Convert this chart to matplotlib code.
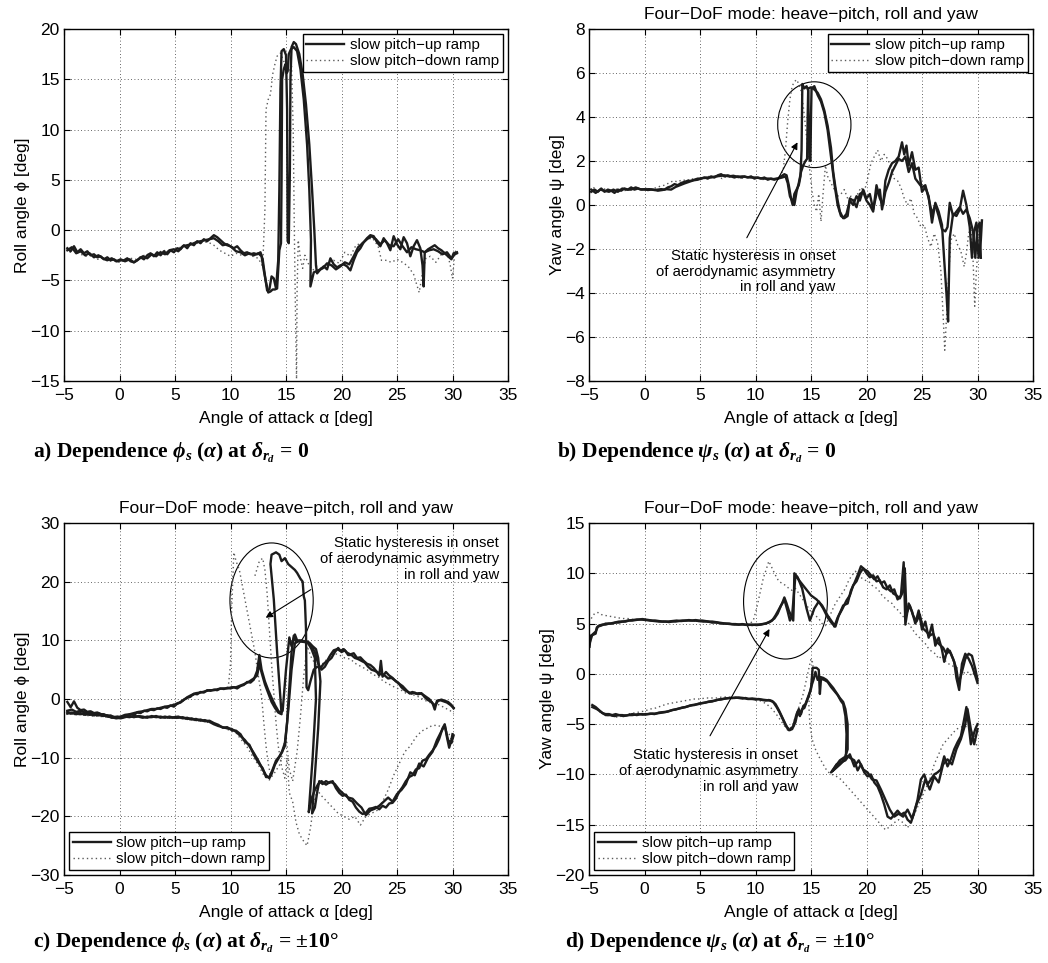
import matplotlib
matplotlib.use("Agg")
import matplotlib.pyplot as plt
from matplotlib.patches import Ellipse

plt.rcParams['font.family'] = ['Liberation Sans', 'DejaVu Sans']
plt.rcParams['axes.unicode_minus'] = True
plt.rcParams['mathtext.fontset'] = 'custom'
plt.rcParams['mathtext.rm'] = 'Liberation Serif:bold'
plt.rcParams['mathtext.it'] = 'Liberation Serif:italic:bold'
plt.rcParams['mathtext.bf'] = 'Liberation Serif:bold'

# ---------------- data: (alpha [deg], angle [deg]) ----------------
# a) roll angle, rudder neutral
a_up1 = [(-4.7,-1.8),(-4.4,-2.1),(-4.1,-1.6),(-3.8,-2.2),(-3.5,-1.9),(-3.2,-2.3),(-2.9,-2.1),(-2.6,-2.5),(-2.3,-2.4),(-2.0,-2.7),(-1.7,-2.6),(-1.4,-2.9),(-1.1,-2.7),(-0.8,-3.0),(-0.5,-2.9),(-0.2,-3.1),(0.1,-3.0),(0.4,-3.0),(0.7,-2.8),(1.0,-3.1),(1.3,-3.2),(1.6,-3.0),(1.9,-2.7),(2.2,-2.9),(2.5,-2.5),(2.8,-2.3),(3.1,-2.6),(3.4,-2.2),(3.7,-2.5),(4.0,-2.1),(4.3,-2.4),(4.6,-2.0),(4.9,-2.2),(5.2,-1.8),(5.5,-1.9),(5.8,-1.5),(6.1,-1.8),(6.4,-1.3),(6.7,-1.5),(7.0,-1.1),(7.3,-1.3),(7.6,-0.9),(7.9,-1.1),(8.2,-0.8),(8.5,-0.5),(8.8,-0.7),(9.1,-1.0),(9.4,-1.3),(9.7,-1.5),(10.0,-1.6),(10.3,-1.8),(10.6,-1.6),(10.9,-2.0),(11.2,-2.3),(11.5,-2.2),(11.8,-2.4),(12.1,-2.3),(12.4,-2.4),(12.7,-2.2),(12.9,-2.9),(13.1,-4.5),(13.3,-6.0),(13.5,-5.9),(13.7,-4.6),(13.9,-4.8),(14.1,-5.8),(14.3,-3.0),(14.4,4.0),(14.5,14.0),(14.6,17.8),(14.8,18.0),(15.0,17.4),(15.1,12.0),(15.15,-1.0),(15.25,-1.3),(15.35,6.0),(15.4,15.0),(15.5,18.2),(15.7,18.7),(15.9,18.5),(16.2,17.5),(16.5,15.5),(16.8,12.5),(17.1,8.5),(17.35,4.0),(17.55,0.0),(17.7,-3.5),(17.8,-4.3),(18.1,-3.9),(18.4,-3.6),(18.7,-3.9),(19.0,-2.8),(19.3,-3.4),(19.6,-3.7),(19.9,-3.5),(20.2,-3.4),(20.5,-3.6),(20.8,-4.0),(21.1,-3.0),(21.4,-2.2),(21.7,-1.8),(22.0,-1.2),(22.3,-0.8),(22.6,-0.5),(22.9,-0.6),(23.2,-1.2),(23.5,-1.6),(23.8,-0.8),(24.1,-1.3),(24.4,-2.0),(24.7,-0.6),(25.0,-1.4),(25.3,-1.9),(25.6,-0.7),(25.9,-1.3),(26.2,-2.6),(26.5,-1.6),(26.8,-1.0),(27.1,-1.8),(27.3,-3.5),(27.4,-5.6),(27.5,-2.2),(27.8,-1.9),(28.1,-1.7),(28.4,-1.5),(28.7,-1.8),(29.0,-2.0),(29.3,-2.3),(29.6,-2.6),(29.9,-2.9),(30.1,-2.3),(30.4,-2.2)]
a_up2 = [(-4.7,-2.0),(-4.3,-1.7),(-3.9,-2.3),(-3.5,-2.1),(-3.1,-2.5),(-2.7,-2.3),(-2.3,-2.7),(-1.9,-2.5),(-1.5,-2.8),(-1.1,-3.0),(-0.7,-2.8),(-0.3,-3.1),(0.1,-2.9),(0.5,-3.1),(0.9,-2.9),(1.3,-3.2),(1.7,-2.9),(2.1,-2.6),(2.5,-2.8),(2.9,-2.4),(3.3,-2.6),(3.7,-2.2),(4.1,-2.4),(4.5,-2.0),(4.9,-1.9),(5.3,-2.1),(5.7,-1.6),(6.1,-1.5),(6.5,-1.4),(6.9,-1.2),(7.3,-1.1),(7.7,-1.0),(8.1,-0.9),(8.5,-0.8),(8.9,-1.1),(9.3,-1.5),(9.7,-1.4),(10.1,-1.7),(10.5,-2.1),(10.9,-2.2),(11.3,-2.5),(11.7,-2.3),(12.1,-2.5),(12.5,-2.3),(12.8,-2.6),(13.0,-4.0),(13.2,-5.2),(13.4,-6.2),(13.6,-6.1),(13.8,-5.9),(14.0,-5.9),(14.2,-5.8),(14.4,-2.0),(14.55,-1.3),(14.6,5.0),(14.65,15.0),(14.8,16.0),(14.95,16.5),(15.05,15.6),(15.15,15.8),(15.25,17.5),(15.45,18.0),(15.7,18.2),(16.0,17.8),(16.3,16.0),(16.6,13.0),(16.9,8.5),(17.1,4.0),(17.25,-1.0),(17.2,-5.6),(17.5,-4.2),(17.9,-4.0),(18.3,-3.8),(18.7,-3.3),(19.1,-3.5),(19.5,-3.9),(19.9,-3.6),(20.3,-3.2),(20.7,-3.4),(21.1,-2.6),(21.5,-1.7),(21.9,-1.3),(22.3,-0.9),(22.7,-0.6),(23.1,-0.9),(23.5,-1.4),(23.9,-1.0),(24.3,-1.5),(24.7,-1.6),(25.1,-0.9),(25.5,-1.6),(25.9,-2.2),(26.3,-1.7),(26.7,-1.9),(27.1,-2.0),(27.5,-2.2),(27.9,-2.0),(28.3,-1.9),(28.7,-2.1),(29.1,-2.4),(29.5,-2.2),(29.9,-2.8),(30.2,-2.4),(30.4,-2.3)]
a_dn = [(-4.5,-2.2),(-4.0,-2.0),(-3.5,-2.4),(-3.0,-2.6),(-2.5,-2.5),(-2.0,-2.9),(-1.5,-2.8),(-1.0,-3.1),(-0.5,-3.0),(0.0,-3.2),(0.5,-3.0),(1.0,-2.8),(1.5,-2.9),(2.0,-2.6),(2.5,-2.4),(3.0,-2.5),(3.5,-2.2),(4.0,-2.0),(4.5,-2.3),(5.0,-1.9),(5.5,-1.7),(6.0,-1.6),(6.5,-1.5),(7.0,-1.3),(7.5,-1.2),(8.0,-1.2),(8.5,-1.5),(9.0,-2.0),(9.5,-2.3),(10.0,-2.6),(10.5,-2.3),(11.0,-2.5),(11.5,-2.3),(12.0,-2.6),(12.5,-2.8),(12.9,-3.6),(13.1,2.0),(13.2,12.0),(13.4,13.0),(13.6,13.5),(13.8,15.5),(14.0,16.5),(14.2,17.3),(14.5,17.6),(14.8,16.8),(15.0,16.0),(15.3,15.8),(15.5,16.3),(15.65,10.0),(15.75,0.0),(15.85,-8.0),(15.95,-14.8),(16.0,-6.0),(16.1,-1.0),(16.3,-2.8),(16.5,-3.8),(16.7,-2.5),(17.0,-3.3),(17.4,-4.0),(17.8,-3.6),(18.3,-3.9),(18.8,-3.2),(19.3,-3.0),(19.8,-3.3),(20.3,-2.2),(20.8,-2.6),(21.3,-1.5),(21.8,-1.3),(22.3,-0.9),(22.8,-0.8),(23.3,-1.6),(23.6,-3.0),(24.0,-3.0),(24.5,-3.2),(25.0,-2.9),(25.5,-3.2),(26.0,-3.6),(26.5,-4.4),(26.8,-5.5),(27.0,-6.2),(27.3,-4.2),(27.6,-2.8),(28.0,-2.6),(28.5,-3.2),(29.0,-2.4),(29.5,-2.1),(29.8,-3.5),(30.0,-4.8),(30.2,-2.3),(30.4,-1.8)]

# b) yaw angle, rudder neutral
b_up1 = [(-4.8,0.6),(-4.5,0.7),(-4.2,0.6),(-3.9,0.75),(-3.6,0.6),(-3.3,0.7),(-3.0,0.65),(-2.7,0.55),(-2.4,0.7),(-2.1,0.65),(-1.8,0.75),(-1.5,0.7),(-1.2,0.8),(-0.9,0.7),(-0.6,0.75),(-0.3,0.7),(0.0,0.72),(0.3,0.68),(0.6,0.7),(0.9,0.68),(1.2,0.7),(1.5,0.72),(1.8,0.7),(2.1,0.8),(2.4,0.85),(2.7,0.95),(3.0,0.9),(3.3,1.0),(3.6,1.05),(3.9,1.1),(4.2,1.1),(4.5,1.15),(4.8,1.2),(5.1,1.2),(5.4,1.25),(5.7,1.2),(6.0,1.3),(6.3,1.25),(6.6,1.35),(6.9,1.4),(7.2,1.3),(7.5,1.35),(7.8,1.3),(8.1,1.25),(8.4,1.3),(8.7,1.25),(9.0,1.3),(9.3,1.25),(9.6,1.3),(9.9,1.2),(10.2,1.25),(10.5,1.2),(10.8,1.25),(11.1,1.15),(11.4,1.2),(11.7,1.15),(12.0,1.2),(12.3,1.3),(12.6,1.4),(12.8,1.35),(13.0,0.9),(13.2,0.3),(13.35,0.0),(13.5,0.5),(13.7,0.7),(13.9,0.9),(14.05,1.3),(14.15,2.5),(14.22,5.5),(14.4,5.3),(14.6,5.4),(14.75,5.2),(14.8,3.5),(14.85,2.1),(14.95,2.0),(15.0,4.0),(15.05,5.3),(15.3,5.4),(15.6,5.0),(15.9,4.7),(16.2,4.2),(16.5,3.4),(16.8,2.2),(17.1,1.0),(17.4,0.0),(17.7,-0.5),(18.0,-0.6),(18.3,-0.5),(18.5,0.3),(18.8,0.2),(19.1,-0.1),(19.4,0.5),(19.7,0.6),(20.0,0.2),(20.3,0.0),(20.6,-0.3),(20.9,0.9),(21.2,0.3),(21.5,0.0),(21.7,1.1),(22.0,1.6),(22.3,1.9),(22.6,2.0),(22.9,2.2),(23.2,2.85),(23.4,2.3),(23.6,2.7),(23.8,1.8),(24.1,2.4),(24.4,1.6),(24.7,1.7),(25.0,0.6),(25.3,0.8),(25.6,0.4),(25.9,-0.8),(26.2,0.1),(26.5,-0.3),(26.8,-0.9),(27.0,-2.5),(27.2,-4.0),(27.35,-5.3),(27.5,-1.5),(27.8,-0.4),(28.1,-0.5),(28.4,-0.2),(28.7,0.65),(29.0,0.0),(29.3,-1.0),(29.5,-2.4),(29.7,-1.2),(29.9,-0.8),(30.1,-2.4),(30.3,-1.6),(30.4,-0.7)]
b_up2 = [(-4.8,0.7),(-4.4,0.55),(-4.0,0.7),(-3.6,0.65),(-3.2,0.6),(-2.8,0.7),(-2.4,0.6),(-2.0,0.75),(-1.6,0.7),(-1.2,0.7),(-0.8,0.8),(-0.4,0.72),(0.0,0.7),(0.4,0.72),(0.8,0.7),(1.2,0.65),(1.6,0.68),(2.0,0.72),(2.4,0.7),(2.8,0.82),(3.2,0.9),(3.6,0.98),(4.0,1.05),(4.4,1.12),(4.8,1.15),(5.2,1.22),(5.6,1.25),(6.0,1.25),(6.4,1.3),(6.8,1.32),(7.2,1.35),(7.6,1.3),(8.0,1.33),(8.4,1.28),(8.8,1.3),(9.2,1.27),(9.6,1.25),(10.0,1.25),(10.4,1.22),(10.8,1.2),(11.2,1.2),(11.6,1.18),(12.0,1.2),(12.4,1.25),(12.7,1.3),(12.9,1.0),(13.1,0.4),(13.3,0.2),(13.5,0.0),(13.7,0.6),(13.9,1.0),(14.1,1.5),(14.3,1.8),(14.5,2.0),(14.65,2.1),(14.7,4.0),(14.75,5.3),(15.0,5.35),(15.3,5.25),(15.6,5.1),(15.9,4.8),(16.2,4.3),(16.5,3.6),(16.8,2.6),(17.0,1.5),(17.2,0.8),(17.4,0.2),(17.6,-0.3),(17.9,-0.6),(18.2,-0.4),(18.5,0.2),(18.8,0.0),(19.1,0.4),(19.4,0.2),(19.7,0.7),(20.0,0.3),(20.3,0.5),(20.6,-0.2),(20.9,0.5),(21.2,0.7),(21.4,-0.2),(21.7,0.6),(22.0,1.0),(22.3,1.5),(22.6,1.8),(22.9,2.1),(23.2,2.0),(23.5,2.2),(23.8,1.5),(24.1,1.9),(24.4,1.2),(24.7,1.0),(25.0,0.8),(25.3,0.9),(25.6,0.3),(25.9,-0.4),(26.2,0.0),(26.5,-0.5),(26.8,-1.1),(27.1,-1.2),(27.3,-1.0),(27.5,0.1),(27.8,-0.5),(28.1,-0.3),(28.4,-0.1),(28.7,-0.4),(29.0,-0.2),(29.3,-0.6),(29.6,-1.2),(29.8,-2.4),(30.0,-1.0),(30.2,-0.8),(30.3,-2.4)]
b_dn = [(-4.6,0.8),(-4.2,0.6),(-3.8,0.75),(-3.4,0.7),(-3.0,0.6),(-2.6,0.72),(-2.2,0.7),(-1.8,0.65),(-1.4,0.72),(-1.0,0.7),(-0.6,0.75),(-0.2,0.7),(0.2,0.75),(0.6,0.7),(1.0,0.78),(1.4,0.85),(1.8,0.9),(2.2,1.0),(2.6,1.1),(3.0,1.05),(3.4,1.15),(3.8,1.1),(4.2,1.2),(4.6,1.15),(5.0,1.25),(5.4,1.2),(5.8,1.3),(6.2,1.25),(6.6,1.3),(7.0,1.2),(7.4,1.3),(7.8,1.25),(8.2,1.3),(8.6,1.2),(9.0,1.25),(9.4,1.3),(9.8,1.2),(10.2,1.25),(10.6,1.15),(11.0,1.2),(11.4,1.15),(11.8,1.2),(12.2,1.3),(12.5,1.6),(12.7,2.5),(12.9,3.8),(13.1,4.8),(13.3,5.4),(13.5,5.6),(13.7,5.7),(13.9,5.5),(14.1,5.2),(14.3,4.5),(14.5,3.6),(14.7,2.6),(14.9,1.5),(15.1,0.6),(15.3,0.0),(15.5,-0.3),(15.7,0.5),(15.9,-0.75),(16.1,0.6),(16.3,1.8),(16.5,1.3),(16.8,1.0),(17.1,0.7),(17.4,0.4),(17.7,0.5),(18.0,0.7),(18.3,0.3),(18.6,0.4),(18.9,0.2),(19.2,0.5),(19.5,0.8),(19.8,0.6),(20.1,1.2),(20.4,1.9),(20.7,2.2),(21.0,2.5),(21.3,2.0),(21.6,2.3),(21.9,2.1),(22.2,1.7),(22.5,1.2),(22.8,1.1),(23.1,0.8),(23.4,0.3),(23.7,0.0),(24.0,0.3),(24.3,-0.4),(24.6,-0.6),(24.9,-1.0),(25.2,-0.9),(25.5,-1.5),(25.8,-1.9),(26.1,-1.3),(26.4,-1.7),(26.7,-3.0),(26.9,-5.0),(27.05,-6.6),(27.2,-5.2),(27.4,-3.2),(27.6,-1.6),(27.9,-1.3),(28.2,-1.8),(28.5,-2.1),(28.8,-2.8),(29.0,-2.2),(29.2,-1.3),(29.4,-1.0),(29.6,-2.5),(29.75,-4.6),(29.9,-3.0),(30.1,-1.6),(30.3,-0.8)]

# c) roll angle, rudder at +/-10 deg
c_up1 = [(-4.7,-0.5),(-4.4,-1.4),(-4.1,-0.4),(-3.8,-1.5),(-3.5,-1.9),(-3.2,-1.8),(-2.9,-2.2),(-2.6,-2.1),(-2.3,-2.4),(-2.0,-2.3),(-1.7,-2.6),(-1.4,-2.6),(-1.1,-2.9),(-0.8,-2.8),(-0.5,-3.1),(-0.2,-3.0),(0.1,-3.2),(0.4,-2.9),(0.7,-2.8),(1.0,-2.6),(1.3,-2.7),(1.6,-2.3),(1.9,-2.4),(2.2,-2.0),(2.5,-2.1),(2.8,-1.8),(3.1,-1.9),(3.4,-1.6),(3.7,-1.7),(4.0,-1.4),(4.3,-1.5),(4.6,-1.1),(4.9,-1.3),(5.2,-0.8),(5.5,-0.6),(5.8,-0.1),(6.1,0.2),(6.4,0.4),(6.7,0.9),(7.0,0.8),(7.3,1.2),(7.6,1.1),(7.9,1.5),(8.2,1.4),(8.5,1.6),(8.8,1.5),(9.1,1.8),(9.4,1.7),(9.7,1.9),(10.0,1.8),(10.3,2.0),(10.6,1.8),(10.9,2.2),(11.2,2.4),(11.5,2.9),(11.8,2.8),(12.1,3.3),(12.4,4.8),(12.6,7.5),(12.8,5.0),(13.1,3.0),(13.4,1.5),(13.7,0.2),(14.0,-1.0),(14.3,-2.0),(14.6,-2.6),(14.2,8.0),(13.9,17.0),(13.6,23.0),(13.7,24.6),(14.1,25.0),(14.4,24.6),(14.6,23.5),(14.9,24.0),(15.2,23.0),(15.5,22.5),(15.8,22.0),(16.0,21.5),(16.3,20.5),(16.5,20.0),(16.6,17.5),(16.7,16.8),(16.8,12.0),(16.85,2.0),(17.0,1.5),(17.2,3.0),(17.5,5.0),(17.8,5.5),(18.1,5.3),(18.4,6.0),(18.7,6.5),(19.0,7.5),(19.3,8.3),(19.6,8.5),(19.9,8.2),(20.2,8.5),(20.5,7.9),(20.8,7.6),(21.1,7.8),(21.4,7.0),(21.7,7.1),(22.0,6.5),(22.3,6.0),(22.6,5.8),(22.9,5.3),(23.2,4.6),(23.4,4.0),(23.55,6.5),(23.7,3.8),(24.0,4.6),(24.3,4.0),(24.6,3.6),(24.9,3.0),(25.2,2.6),(25.5,2.2),(25.8,1.6),(26.1,1.0),(26.4,1.2),(26.7,0.9),(27.0,1.0),(27.3,0.8),(27.6,0.4),(27.9,0.0),(28.2,-0.7),(28.4,-1.8),(28.6,-0.3),(28.9,-0.2),(29.2,-0.4),(29.5,-0.6),(29.8,-1.0),(30.1,-1.5)]
c_up2 = [(-4.7,-2.0),(-4.3,-1.8),(-3.9,-2.2),(-3.5,-2.0),(-3.1,-2.3),(-2.7,-2.2),(-2.3,-2.5),(-1.9,-2.4),(-1.5,-2.7),(-1.1,-2.8),(-0.7,-3.0),(-0.3,-3.1),(0.1,-3.0),(0.5,-2.7),(0.9,-2.6),(1.3,-2.4),(1.7,-2.2),(2.1,-2.1),(2.5,-1.9),(2.9,-1.7),(3.3,-1.7),(3.7,-1.5),(4.1,-1.3),(4.5,-1.2),(4.9,-1.0),(5.3,-0.7),(5.7,-0.3),(6.1,0.3),(6.5,0.7),(6.9,1.0),(7.3,1.1),(7.7,1.3),(8.1,1.5),(8.5,1.5),(8.9,1.7),(9.3,1.8),(9.7,1.8),(10.1,2.0),(10.5,2.0),(10.9,2.3),(11.3,2.6),(11.7,3.0),(12.1,3.5),(12.4,4.0),(12.6,6.0),(12.8,4.5),(13.1,2.5),(13.4,1.0),(13.7,-0.5),(14.0,-1.5),(14.3,-2.3),(14.5,-2.5),(14.7,-2.0),(15.0,5.0),(15.3,10.5),(15.5,9.0),(15.8,11.0),(16.0,10.0),(16.3,9.8),(16.7,9.7),(17.0,9.5),(17.3,9.0),(17.6,8.0),(17.9,6.0),(18.2,5.0),(18.5,5.5),(18.8,6.5),(19.1,7.0),(19.4,8.0),(19.7,8.7),(20.0,8.0),(20.3,8.3),(20.6,7.5),(20.9,7.5),(21.2,7.0),(21.5,6.8),(21.8,6.5),(22.1,6.2),(22.4,5.5),(22.7,5.0),(23.0,4.8),(23.3,4.5),(23.6,4.2),(23.9,4.0),(24.2,3.5),(24.5,3.6),(24.8,3.2),(25.1,2.8),(25.4,2.0),(25.7,1.5),(26.0,1.2),(26.3,0.9),(26.6,1.1),(26.9,0.8),(27.2,1.0),(27.5,0.3),(27.8,-0.2),(28.1,-0.5),(28.4,-1.2),(28.7,-0.3),(29.0,-0.1),(29.3,-0.3),(29.6,-0.5),(29.9,-1.0),(30.1,-1.6)]
c_lo1 = [(-4.7,-2.2),(-4.3,-2.5),(-3.9,-2.3),(-3.5,-2.6),(-3.1,-2.4),(-2.7,-2.7),(-2.3,-2.6),(-1.9,-2.8),(-1.5,-2.7),(-1.1,-3.0),(-0.7,-3.1),(-0.3,-3.3),(0.1,-3.2),(0.5,-3.0),(0.9,-3.1),(1.3,-2.9),(1.7,-3.0),(2.1,-3.2),(2.5,-3.0),(2.9,-3.1),(3.3,-2.9),(3.7,-3.2),(4.1,-3.0),(4.5,-3.2),(4.9,-3.1),(5.3,-3.0),(5.7,-3.3),(6.1,-3.2),(6.5,-3.5),(6.9,-3.4),(7.3,-3.7),(7.7,-3.6),(8.1,-3.9),(8.5,-4.3),(8.9,-4.6),(9.3,-4.8),(9.7,-5.0),(10.1,-5.1),(10.5,-5.6),(10.9,-6.3),(11.3,-7.0),(11.7,-8.0),(12.1,-9.2),(12.5,-10.5),(12.9,-12.0),(13.2,-13.0),(13.5,-13.5),(13.7,-12.8),(14.0,-11.2),(14.3,-10.2),(14.6,-9.2),(14.9,-7.5),(15.1,-4.0),(15.3,2.0),(15.5,8.0),(15.7,10.8),(15.9,9.8),(16.2,10.0),(16.5,9.8),(16.8,9.9),(17.1,9.6),(17.4,9.0),(17.7,8.5),(17.9,7.0),(18.1,3.0),(17.9,-5.0),(17.6,-13.0),(17.35,-19.5),(17.6,-18.5),(17.8,-16.0),(18.0,-14.0),(18.3,-14.5),(18.6,-14.0),(18.9,-14.3),(19.2,-14.0),(19.5,-15.2),(19.8,-16.0),(20.1,-16.5),(20.4,-16.3),(20.7,-17.2),(21.0,-17.5),(21.3,-18.5),(21.6,-19.2),(21.9,-19.6),(22.2,-19.4),(22.5,-18.7),(22.8,-18.6),(23.1,-18.4),(23.4,-18.8),(23.7,-18.2),(24.0,-18.5),(24.3,-17.8),(24.6,-17.7),(24.9,-17.0),(25.2,-15.8),(25.5,-15.0),(25.8,-14.0),(26.1,-13.3),(26.4,-13.0),(26.7,-12.0),(27.0,-11.8),(27.3,-10.5),(27.6,-10.3),(27.9,-9.5),(28.2,-8.8),(28.5,-8.0),(28.8,-6.8),(29.1,-5.0),(29.3,-4.3),(29.5,-6.5),(29.7,-8.3),(29.9,-7.0),(30.0,-6.0)]
c_lo2 = [(-4.7,-2.5),(-4.3,-2.3),(-3.9,-2.6),(-3.5,-2.4),(-3.1,-2.7),(-2.7,-2.5),(-2.3,-2.8),(-1.9,-2.6),(-1.5,-2.9),(-1.1,-2.8),(-0.7,-3.2),(-0.3,-3.1),(0.1,-3.3),(0.5,-3.1),(0.9,-2.9),(1.3,-3.1),(1.7,-2.9),(2.1,-3.0),(2.5,-3.2),(2.9,-2.9),(3.3,-3.1),(3.7,-3.0),(4.1,-3.2),(4.5,-3.0),(4.9,-3.2),(5.3,-3.2),(5.7,-3.1),(6.1,-3.4),(6.5,-3.3),(6.9,-3.6),(7.3,-3.5),(7.7,-3.8),(8.1,-3.7),(8.5,-4.1),(8.9,-4.4),(9.3,-4.9),(9.7,-4.8),(10.1,-5.3),(10.5,-5.4),(10.9,-6.0),(11.3,-7.3),(11.7,-7.8),(12.1,-9.5),(12.5,-10.8),(12.9,-11.8),(13.2,-13.3),(13.5,-13.3),(13.8,-12.0),(14.1,-10.5),(14.4,-9.8),(14.7,-8.8),(14.9,-8.0),(15.2,-2.0),(15.5,5.0),(15.8,9.5),(16.1,9.8),(16.4,10.0),(16.7,9.8),(17.0,9.5),(17.3,8.5),(17.6,7.0),(17.7,0.0),(17.4,-10.0),(17.05,-19.3),(17.3,-17.0),(17.6,-15.5),(17.9,-14.5),(18.2,-14.0),(18.6,-14.6),(19.0,-14.1),(19.4,-14.5),(19.8,-15.5),(20.2,-16.2),(20.6,-16.8),(21.0,-17.0),(21.4,-17.8),(21.8,-18.5),(22.2,-19.8),(22.6,-19.0),(23.0,-18.7),(23.4,-18.2),(23.8,-17.5),(24.2,-16.8),(24.6,-17.5),(25.0,-16.2),(25.4,-15.5),(25.8,-14.5),(26.2,-12.5),(26.6,-13.0),(27.0,-11.0),(27.4,-11.5),(27.8,-10.0),(28.2,-9.0),(28.6,-7.0),(29.0,-5.5),(29.3,-4.5),(29.6,-7.0),(29.9,-7.5),(30.1,-6.2)]
c_dn_up = [(-4.5,-2.3),(-4.0,-2.5),(-3.5,-2.2),(-3.0,-2.6),(-2.5,-2.5),(-2.0,-2.8),(-1.5,-2.7),(-1.0,-3.0),(-0.5,-3.2),(0.0,-3.3),(0.5,-3.0),(1.0,-2.7),(1.5,-2.5),(2.0,-2.2),(2.5,-2.0),(3.0,-1.8),(3.5,-1.6),(4.0,-1.3),(4.5,-1.1),(5.0,-0.8),(5.5,-0.4),(6.0,0.0),(6.5,0.5),(7.0,0.9),(7.5,1.2),(8.0,1.4),(8.5,1.6),(9.0,1.8),(9.5,1.8),(9.8,2.0),(10.0,6.0),(10.1,15.0),(10.3,25.0),(10.5,23.5),(10.8,22.0),(11.0,20.0),(11.3,17.0),(11.6,14.0),(11.9,11.0),(12.2,8.0),(12.5,4.0),(12.8,0.5),(13.0,-4.0),(13.2,-8.0),(13.4,-11.0),(13.6,-13.0),(13.8,-12.0)]
c_dn_mid = [(12.2,21.0),(12.6,23.5),(12.9,24.0),(13.1,22.0),(13.3,18.0),(13.5,12.0),(13.7,6.0),(13.9,1.0),(14.1,-4.0),(14.3,-8.0),(14.6,-11.5),(14.9,-13.5),(15.1,-10.0),(15.3,-16.0),(15.6,-17.5),(15.9,-21.0),(16.2,-23.0),(16.5,-24.0),(16.9,-25.0),(17.2,-22.0),(17.5,-18.0),(17.8,-15.5),(18.2,-16.5),(18.7,-17.5),(19.2,-18.5),(19.7,-19.5),(20.2,-20.0),(20.7,-20.5),(21.2,-20.0),(21.7,-21.5),(22.2,-20.0),(22.7,-19.5),(23.2,-19.0),(23.7,-17.5),(24.2,-15.5),(24.7,-13.0),(25.2,-11.0),(25.7,-9.0),(26.2,-8.0),(26.7,-6.5),(27.2,-5.5),(27.7,-5.0),(28.2,-4.5),(28.7,-4.5),(29.2,-5.0),(29.7,-6.0),(30.0,-7.5)]
c_dn_lo = [(-4.5,-2.6),(-3.5,-2.7),(-2.5,-2.9),(-1.5,-3.0),(-0.5,-3.2),(0.5,-3.1),(1.5,-3.1),(2.5,-3.2),(3.5,-3.1),(4.5,-3.3),(5.5,-3.3),(6.5,-3.6),(7.5,-3.8),(8.5,-4.2),(9.5,-5.0),(10.5,-5.8),(11.0,-7.0),(11.5,-8.2),(12.0,-9.8),(12.5,-11.2),(13.0,-13.0),(13.5,-13.8),(14.0,-12.5),(14.5,-11.0),(15.0,-6.0),(15.3,-12.0),(15.6,-14.0),(16.0,-9.0),(16.3,-3.0),(16.6,4.0),(16.9,9.0),(17.3,7.0),(17.8,5.5),(18.3,6.0),(18.8,7.0),(19.3,7.8),(19.8,7.5),(20.3,7.0),(20.8,6.8),(21.3,6.0),(21.8,5.5),(22.3,5.0),(22.8,4.2),(23.3,3.8),(23.8,3.0),(24.3,2.5),(24.8,2.0),(25.3,1.6),(25.8,1.0),(26.3,0.8),(26.8,0.5),(27.3,0.0),(27.8,-0.5),(28.3,-0.8),(28.8,-1.0),(29.3,-1.5),(29.8,-2.0),(30.1,-2.5)]

# d) yaw angle, rudder at +/-10 deg
d_up1 = [(-4.95,2.7),(-4.85,3.8),(-4.6,3.9),(-4.4,4.0),(-4.3,4.6),(-4.1,4.8),(-3.8,4.9),(-3.5,4.9),(-3.2,5.0),(-2.9,5.0),(-2.6,5.1),(-2.3,5.1),(-2.0,5.2),(-1.7,5.2),(-1.4,5.3),(-1.1,5.3),(-0.8,5.35),(-0.5,5.4),(-0.2,5.45),(0.1,5.4),(0.4,5.35),(0.7,5.3),(1.0,5.3),(1.3,5.25),(1.6,5.2),(1.9,5.2),(2.2,5.15),(2.5,5.2),(2.8,5.2),(3.1,5.25),(3.4,5.3),(3.7,5.3),(4.0,5.35),(4.3,5.3),(4.6,5.35),(4.9,5.3),(5.2,5.3),(5.5,5.25),(5.8,5.2),(6.1,5.2),(6.4,5.15),(6.7,5.1),(7.0,5.05),(7.3,5.0),(7.6,5.0),(7.9,4.95),(8.2,4.95),(8.5,4.9),(8.8,4.95),(9.1,4.9),(9.4,4.9),(9.7,4.85),(10.0,4.9),(10.3,4.9),(10.6,4.95),(10.9,5.0),(11.2,5.1),(11.5,5.3),(11.8,5.8),(12.1,6.4),(12.4,7.0),(12.6,7.6),(12.8,7.0),(13.0,6.3),(13.2,5.8),(13.4,5.3),(13.45,7.0),(13.5,10.0),(13.8,9.6),(14.2,8.5),(14.6,6.5),(14.9,5.3),(15.3,6.5),(15.7,7.2),(16.1,6.5),(16.5,5.6),(16.9,5.0),(17.2,4.7),(17.5,5.8),(17.9,6.8),(18.3,7.0),(18.6,8.3),(18.9,9.0),(19.2,9.8),(19.5,10.7),(19.8,10.4),(20.1,10.2),(20.4,9.8),(20.7,9.4),(21.0,9.7),(21.3,9.0),(21.6,9.2),(21.9,8.5),(22.2,8.2),(22.5,8.4),(22.8,7.4),(23.1,7.8),(23.35,11.1),(23.5,4.9),(23.8,7.0),(24.1,6.2),(24.4,5.0),(24.7,6.3),(25.0,4.4),(25.3,5.2),(25.6,3.6),(25.9,4.9),(26.2,2.8),(26.5,3.6),(26.8,2.4),(27.0,1.2),(27.3,2.5),(27.6,2.0),(27.9,1.2),(28.1,-0.4),(28.35,-1.6),(28.6,1.0),(28.9,2.0),(29.2,1.5),(29.5,0.8),(29.8,-0.2),(30.0,-0.9)]
d_up2 = [(-4.9,3.2),(-4.7,3.9),(-4.4,4.2),(-4.2,4.7),(-3.9,4.8),(-3.5,5.0),(-3.1,5.0),(-2.7,5.1),(-2.3,5.2),(-1.9,5.2),(-1.5,5.3),(-1.1,5.35),(-0.7,5.4),(-0.3,5.4),(0.1,5.35),(0.5,5.3),(0.9,5.25),(1.3,5.2),(1.7,5.2),(2.1,5.2),(2.5,5.25),(2.9,5.3),(3.3,5.25),(3.7,5.3),(4.1,5.3),(4.5,5.3),(4.9,5.25),(5.3,5.2),(5.7,5.2),(6.1,5.1),(6.5,5.1),(6.9,5.0),(7.3,5.0),(7.7,4.95),(8.1,4.9),(8.5,4.9),(8.9,4.9),(9.3,4.85),(9.7,4.9),(10.1,4.85),(10.5,4.9),(10.9,5.0),(11.3,5.2),(11.7,5.5),(12.0,6.0),(12.3,6.8),(12.6,7.4),(12.9,6.2),(13.1,5.3),(13.3,5.8),(13.6,9.8),(14.0,9.2),(14.5,8.5),(15.0,7.8),(15.5,7.4),(16.0,6.8),(16.5,5.8),(17.0,5.0),(17.1,4.7),(17.4,5.6),(17.8,6.4),(18.2,7.3),(18.5,7.8),(18.8,8.8),(19.1,9.2),(19.4,10.0),(19.7,10.5),(20.0,10.0),(20.3,9.6),(20.6,9.8),(20.9,9.2),(21.2,9.3),(21.5,8.6),(21.8,8.4),(22.1,8.8),(22.4,8.0),(22.7,7.8),(23.0,7.5),(23.3,8.2),(23.45,10.5),(23.6,6.0),(23.9,6.8),(24.2,5.8),(24.5,5.2),(24.8,5.9),(25.1,4.5),(25.4,4.2),(25.7,3.8),(26.0,4.0),(26.3,3.2),(26.6,2.9),(26.9,2.6),(27.2,2.0),(27.5,2.3),(27.8,1.5),(28.1,0.5),(28.3,-1.0),(28.6,0.2),(28.9,1.5),(29.2,2.0),(29.5,1.8),(29.8,0.5),(30.0,-0.6)]
d_lo1 = [(-4.7,-3.1),(-4.4,-3.3),(-4.1,-3.6),(-3.8,-3.9),(-3.5,-4.0),(-3.2,-4.0),(-2.9,-4.1),(-2.6,-4.0),(-2.3,-4.1),(-2.0,-4.1),(-1.7,-4.15),(-1.4,-4.1),(-1.1,-4.1),(-0.8,-4.05),(-0.5,-4.0),(-0.2,-4.05),(0.1,-4.0),(0.4,-4.0),(0.7,-3.95),(1.0,-3.95),(1.3,-3.9),(1.6,-3.85),(1.9,-3.8),(2.2,-3.7),(2.5,-3.6),(2.8,-3.55),(3.1,-3.45),(3.4,-3.35),(3.7,-3.3),(4.0,-3.2),(4.3,-3.1),(4.6,-3.05),(4.9,-3.0),(5.2,-2.9),(5.5,-2.85),(5.8,-2.75),(6.1,-2.7),(6.4,-2.65),(6.7,-2.55),(7.0,-2.5),(7.3,-2.45),(7.6,-2.4),(7.9,-2.4),(8.2,-2.35),(8.5,-2.4),(8.8,-2.45),(9.1,-2.4),(9.4,-2.5),(9.7,-2.5),(10.0,-2.55),(10.3,-2.5),(10.6,-2.6),(10.9,-2.65),(11.2,-2.6),(11.5,-2.7),(11.8,-3.0),(12.1,-3.6),(12.4,-4.3),(12.7,-5.0),(13.0,-5.6),(13.3,-5.5),(13.6,-4.8),(13.8,-3.8),(14.0,-4.2),(14.2,-3.5),(14.4,-3.4),(14.6,-2.8),(14.8,-2.2),(15.0,-1.5),(15.15,0.6),(15.5,0.6),(15.7,0.4),(15.8,-2.0),(15.9,-0.5),(16.2,-0.6),(16.5,-0.8),(16.8,-1.3),(17.1,-1.7),(17.4,-2.1),(17.7,-2.7),(17.9,-3.0),(18.1,-4.2),(18.2,-6.0),(18.15,-8.2),(17.8,-8.8),(17.4,-9.2),(17.0,-9.6),(16.8,-9.8),(17.2,-9.2),(17.6,-8.6),(18.0,-8.3),(18.3,-8.2),(18.6,-8.4),(18.9,-8.6),(19.2,-9.6),(19.5,-9.0),(19.8,-9.8),(20.1,-10.2),(20.4,-10.0),(20.7,-10.8),(21.0,-11.2),(21.3,-12.0),(21.6,-13.0),(21.9,-14.2),(22.2,-14.4),(22.5,-14.0),(22.8,-13.6),(23.1,-14.0),(23.4,-13.8),(23.7,-14.5),(24.0,-14.8),(24.3,-13.8),(24.6,-12.5),(24.9,-10.5),(25.2,-10.0),(25.5,-11.0),(25.8,-10.5),(26.1,-10.0),(26.4,-9.8),(26.7,-9.5),(27.0,-8.2),(27.3,-9.2),(27.6,-8.5),(27.9,-7.5),(28.2,-6.8),(28.5,-6.2),(28.8,-4.5),(29.0,-3.3),(29.2,-5.0),(29.4,-7.0),(29.6,-6.2),(29.8,-5.5),(30.0,-5.0)]
d_lo2 = [(-4.7,-3.3),(-4.3,-3.5),(-3.9,-3.8),(-3.5,-4.1),(-3.1,-4.1),(-2.7,-4.2),(-2.3,-4.1),(-1.9,-4.2),(-1.5,-4.1),(-1.1,-4.0),(-0.7,-4.1),(-0.3,-4.0),(0.1,-4.05),(0.5,-3.95),(0.9,-4.0),(1.3,-3.85),(1.7,-3.8),(2.1,-3.75),(2.5,-3.6),(2.9,-3.5),(3.3,-3.4),(3.7,-3.3),(4.1,-3.15),(4.5,-3.1),(4.9,-2.95),(5.3,-2.9),(5.7,-2.8),(6.1,-2.75),(6.5,-2.6),(6.9,-2.55),(7.3,-2.45),(7.7,-2.4),(8.1,-2.4),(8.5,-2.35),(8.9,-2.4),(9.3,-2.5),(9.7,-2.45),(10.1,-2.5),(10.5,-2.55),(10.9,-2.6),(11.3,-2.65),(11.6,-2.8),(11.9,-3.3),(12.2,-3.9),(12.5,-4.6),(12.8,-5.3),(13.1,-5.6),(13.4,-5.2),(13.7,-4.0),(13.9,-3.5),(14.1,-4.0),(14.3,-3.2),(14.5,-3.0),(14.7,-2.4),(14.9,-1.8),(15.1,-1.0),(15.25,-0.5),(15.4,0.2),(15.6,-0.6),(15.8,-0.3),(16.1,-0.4),(16.4,-0.6),(16.7,-1.0),(17.0,-1.4),(17.3,-1.9),(17.6,-2.4),(17.9,-2.8),(18.1,-3.5),(18.3,-5.0),(18.3,-7.5),(18.0,-8.5),(17.6,-9.0),(17.2,-9.4),(16.9,-9.7),(17.3,-9.0),(17.7,-8.8),(18.1,-8.6),(18.5,-8.0),(18.9,-9.2),(19.3,-8.6),(19.7,-9.5),(20.1,-9.8),(20.5,-10.5),(20.9,-10.6),(21.3,-11.5),(21.7,-12.5),(22.1,-13.5),(22.5,-14.2),(22.9,-13.9),(23.3,-14.2),(23.7,-13.5),(24.1,-14.4),(24.5,-13.0),(24.9,-12.0),(25.3,-10.5),(25.7,-11.5),(26.1,-10.2),(26.5,-10.8),(26.9,-9.0),(27.3,-8.5),(27.7,-9.0),(28.1,-7.5),(28.5,-6.5),(28.9,-5.0),(29.1,-3.5),(29.4,-5.5),(29.7,-7.0),(30.0,-5.5)]
d_dn_up = [(-4.8,5.5),(-4.5,6.0),(-4.2,6.1),(-3.9,5.9),(-3.5,5.8),(-3.0,5.7),(-2.5,5.6),(-2.0,5.5),(-1.5,5.5),(-1.0,5.4),(-0.5,5.4),(0.0,5.4),(0.5,5.3),(1.0,5.3),(1.5,5.2),(2.0,5.2),(2.5,5.2),(3.0,5.3),(3.5,5.3),(4.0,5.3),(4.5,5.25),(5.0,5.2),(5.5,5.2),(6.0,5.1),(6.5,5.1),(7.0,5.0),(7.5,5.0),(8.0,5.0),(8.5,4.9),(9.0,5.0),(9.5,5.0),(9.8,5.3),(10.1,6.5),(10.4,8.0),(10.7,9.5),(11.0,10.5),(11.2,11.2),(11.5,10.5),(11.8,9.8),(12.1,9.2),(12.4,9.0),(12.7,8.8),(13.0,8.5),(13.3,8.3),(13.6,8.5),(13.9,8.0),(14.2,7.5),(14.5,7.0),(14.8,6.5),(15.1,6.0),(15.4,5.8),(15.7,5.5),(16.0,5.0),(16.3,4.8),(16.6,5.5),(16.9,6.3),(17.2,7.0),(17.5,7.5),(17.8,8.0),(18.1,8.5),(18.4,9.3),(18.7,9.8),(19.0,10.2),(19.3,9.8),(19.6,9.5),(19.9,9.3),(20.2,9.2),(20.5,8.8),(20.8,8.6),(21.1,8.3),(21.4,7.8),(21.7,7.5),(22.0,7.2),(22.3,7.0),(22.6,6.5),(22.9,6.3),(23.2,5.8),(23.5,5.5),(23.8,5.0),(24.1,4.5),(24.4,4.0),(24.7,3.7),(25.0,3.3),(25.3,3.0),(25.6,2.5),(25.9,2.2),(26.2,2.0),(26.5,1.5),(26.8,1.8),(27.1,1.3),(27.4,1.0),(27.7,0.8),(28.0,0.7),(28.3,0.5),(28.6,0.3),(28.9,0.0),(29.2,0.2),(29.5,-0.2),(29.8,0.3),(30.1,-0.5)]
d_dn_lo = [(-4.7,-3.2),(-4.3,-3.5),(-3.9,-3.9),(-3.5,-4.1),(-3.0,-4.2),(-2.5,-4.3),(-2.0,-4.2),(-1.5,-4.0),(-1.0,-3.9),(-0.5,-3.8),(0.0,-3.7),(0.5,-3.5),(1.0,-3.4),(1.5,-3.2),(2.0,-3.0),(2.5,-2.9),(3.0,-2.8),(3.5,-2.7),(4.0,-2.6),(4.5,-2.5),(5.0,-2.5),(5.5,-2.4),(6.0,-2.4),(6.5,-2.4),(7.0,-2.3),(7.5,-2.3),(8.0,-2.4),(8.5,-2.4),(9.0,-2.5),(9.5,-2.5),(10.0,-2.6),(10.5,-2.7),(11.0,-3.0),(11.5,-3.5),(12.0,-4.2),(12.5,-5.0),(12.9,-5.6),(13.3,-5.2),(13.7,-4.0),(14.0,-3.0),(14.3,-2.0),(14.6,-0.5),(14.8,0.5),(15.0,1.5),(15.2,1.0),(15.0,-1.0),(14.8,-3.0),(14.9,-5.0),(15.1,-6.5),(15.4,-7.5),(15.7,-8.2),(16.0,-8.8),(16.3,-9.4),(16.6,-9.8),(16.9,-10.0),(17.3,-10.2),(17.7,-10.5),(18.1,-11.0),(18.5,-11.5),(18.9,-12.0),(19.3,-12.5),(19.7,-13.0),(20.1,-13.5),(20.5,-14.0),(20.9,-14.5),(21.3,-15.0),(21.7,-15.5),(22.1,-15.2),(22.5,-14.8),(22.9,-14.5),(23.3,-14.8),(23.7,-15.3),(24.1,-14.5),(24.5,-13.5),(24.9,-12.5),(25.3,-11.5),(25.7,-10.5),(26.1,-9.0),(26.5,-8.0),(26.9,-7.0),(27.3,-6.5),(27.7,-6.0),(28.1,-5.5),(28.5,-5.3),(28.9,-5.2),(29.3,-5.5),(29.7,-6.0),(30.0,-7.5)]

x_ticks = [-5, 0, 5, 10, 15, 20, 25, 30, 35]
a_yticks = [-15, -10, -5, 0, 5, 10, 15, 20]
b_yticks = [-8, -6, -4, -2, 0, 2, 4, 6, 8]
c_yticks = [-30, -20, -10, 0, 10, 20, 30]
d_yticks = [-20, -15, -10, -5, 0, 5, 10, 15]

legend_labels = ['slow pitch\u2212up ramp', 'slow pitch\u2212down ramp']
mode_title = 'Four\u2212DoF mode: heave\u2212pitch, roll and yaw'
note_text = 'Static hysteresis in onset\nof aerodynamic asymmetry\nin roll and yaw'
xlabel_text = 'Angle of attack \u03b1 [deg]'
pm10 = '\u00b110\u00b0'
captions = [r'a) Dependence $\phi_s\;(\alpha)$ at $\delta_{r_d}$ = 0',
            r'b) Dependence $\psi_s\;(\alpha)$ at $\delta_{r_d}$ = 0',
            r'c) Dependence $\phi_s\;(\alpha)$ at $\delta_{r_d}$ = ' + pm10,
            r'd) Dependence $\psi_s\;(\alpha)$ at $\delta_{r_d}$ = ' + pm10]

SOLID = dict(color='#1c1c1c', lw=1.7, solid_joinstyle='round')
DOTTED = dict(color='#5a5a5a', lw=1.0, linestyle=(0, (1, 2.2)))
FS = 12.5


def xy(points):
    return [p[0] for p in points], [p[1] for p in points]


def style_axes(ax, yticks, ylabel):
    ax.set_xlim(-5, 35)
    ax.set_ylim(yticks[0], yticks[-1])
    ax.set_xticks(x_ticks)
    ax.set_yticks(yticks)
    ax.grid(True, color='#333333', linestyle=(0, (1, 3)), lw=0.6)
    ax.tick_params(direction='in', top=True, right=True, labelsize=FS,
                   length=4, width=0.8)
    ax.tick_params(axis='x', pad=5)
    ax.tick_params(axis='y', pad=3)
    for s in ax.spines.values():
        s.set_linewidth(1.0)
    ax.set_xlabel(xlabel_text, fontsize=FS, labelpad=6)
    ax.set_ylabel(ylabel, fontsize=FS, labelpad=0)


def add_legend(ax, loc):
    h1, = ax.plot([], [], **SOLID)
    h2, = ax.plot([], [], **DOTTED)
    leg = ax.legend([h1, h2], legend_labels, loc=loc, fontsize=10.8,
                    fancybox=False, framealpha=1, edgecolor='black',
                    handlelength=2.5, handletextpad=0.4, borderpad=0.25,
                    labelspacing=0.15, borderaxespad=0.35)
    leg.get_frame().set_linewidth(1.0)


fig = plt.figure(figsize=(10.48, 9.63), dpi=100)
W, H = 1048, 963
boxes = [(64, 29), (589, 29), (64, 523), (589, 523)]
axes = []
for (left, top) in boxes:
    axes.append(fig.add_axes([left / W, 1 - (top + 352) / H, 444 / W, 352 / H]))
ax_a, ax_b, ax_c, ax_d = axes

# a)
ax_a.plot(*xy(a_dn), **DOTTED)
for seg in (a_up1, a_up2):
    ax_a.plot(*xy(seg), **SOLID)
style_axes(ax_a, a_yticks, 'Roll angle \u03d5 [deg]')
add_legend(ax_a, 'upper right')

# b)
ax_b.plot(*xy(b_dn), **DOTTED)
for seg in (b_up1, b_up2):
    ax_b.plot(*xy(seg), **SOLID)
style_axes(ax_b, b_yticks, 'Yaw angle \u03c8 [deg]')
add_legend(ax_b, 'upper right')
ax_b.set_title(mode_title, fontsize=FS, pad=7)
ax_b.add_patch(Ellipse((15.3, 3.65), 6.6, 3.9, fill=False, lw=0.8, color='black'))
ax_b.annotate('', xy=(13.9, 2.96), xytext=(9.1, -1.6),
              arrowprops=dict(arrowstyle='-|>', lw=0.8, color='black', mutation_scale=10))
ax_b.text(17.2, -2.0, note_text, ha='right', va='top', fontsize=10.7, linespacing=1.15)

# c)
for seg in (c_dn_up, c_dn_mid, c_dn_lo):
    ax_c.plot(*xy(seg), **DOTTED)
for seg in (c_up1, c_up2, c_lo1, c_lo2):
    ax_c.plot(*xy(seg), **SOLID)
style_axes(ax_c, c_yticks, 'Roll angle \u03d5 [deg]')
add_legend(ax_c, 'lower left')
ax_c.set_title(mode_title, fontsize=FS, pad=7)
ax_c.add_patch(Ellipse((13.7, 16.8), 7.5, 19.6, fill=False, lw=0.8, color='black'))
ax_c.annotate('', xy=(12.96, 13.6), xytext=(17.45, 18.9),
              arrowprops=dict(arrowstyle='-|>', lw=0.8, color='black', mutation_scale=10))
ax_c.text(34.2, 27.7, note_text, ha='right', va='top', fontsize=10.7, linespacing=1.15)

# d)
for seg in (d_dn_up, d_dn_lo):
    ax_d.plot(*xy(seg), **DOTTED)
for seg in (d_up1, d_up2, d_lo1, d_lo2):
    ax_d.plot(*xy(seg), **SOLID)
style_axes(ax_d, d_yticks, 'Yaw angle \u03c8 [deg]')
add_legend(ax_d, 'lower left')
ax_d.set_title(mode_title, fontsize=FS, pad=7)
ax_d.add_patch(Ellipse((12.7, 7.2), 7.55, 11.45, fill=False, lw=0.8, color='black'))
ax_d.annotate('', xy=(11.38, 4.7), xytext=(5.78, -6.4),
              arrowprops=dict(arrowstyle='-|>', lw=0.8, color='black', mutation_scale=10))
ax_d.text(13.86, -7.4, note_text, ha='right', va='top', fontsize=10.7, linespacing=1.15)

# captions
cap_pos = [(33, 458), (557, 458), (33, 948), (565, 948)]
for (cx, cy), cap in zip(cap_pos, captions):
    fig.text(cx / W, 1 - cy / H, cap, ha='left', va='baseline', fontsize=15.5,
             family='Liberation Serif', weight='bold')

fig.savefig('out.png', dpi=100)
